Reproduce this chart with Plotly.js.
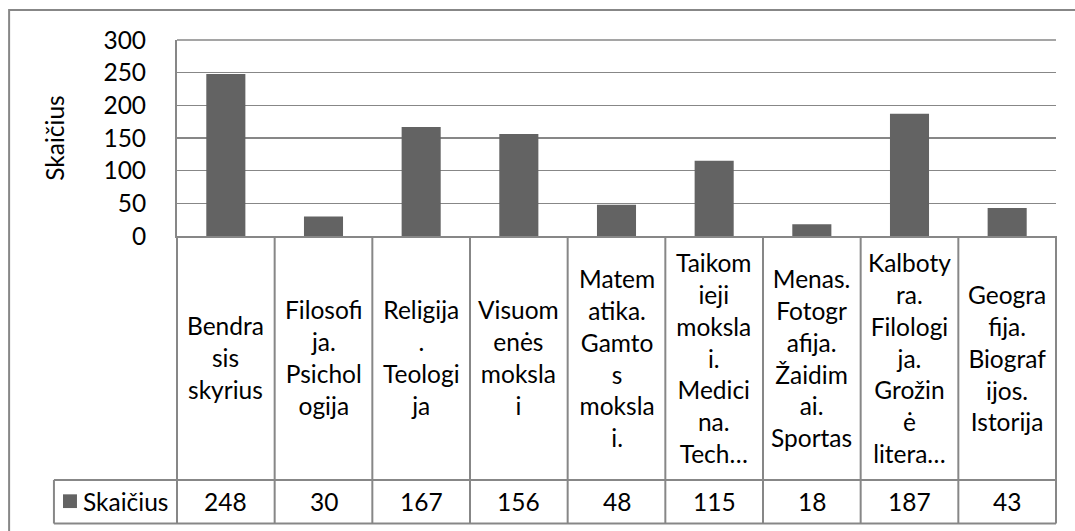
<!DOCTYPE html>
<html>
<head>
<meta charset="utf-8">
<script src="https://cdn.plot.ly/plotly-3.0.1.min.js"></script>
<style>html,body{margin:0;padding:0;background:#fff;}#chart{width:1075px;height:531px;}</style>
</head>
<body>
<div id="chart"></div>
<script>
// ---- data ----
const categories = [
  'Bendrasis skyrius',
  'Filosofija. Psichologija',
  'Religija. Teologija',
  'Visuomenės mokslai',
  'Matematika. Gamtos mokslai.',
  'Taikomieji mokslai. Medicina. Technika',
  'Menas. Fotografija. Žaidimai. Sportas',
  'Kalbotyra. Filologija. Grožinė literatūra',
  'Geografija. Biografijos. Istorija'
];
const cellLabels = [
  'Bendra<br>sis<br>skyrius',
  'Filosofi<br>ja.<br>Psichol<br>ogija',
  'Religija<br>.<br>Teologi<br>ja',
  'Visuom<br>enės<br>moksla<br>i',
  'Matem<br>atika.<br>Gamto<br>s<br>moksla<br>i.',
  'Taikom<br>ieji<br>moksla<br>i.<br>Medici<br>na.<br>Tech…',
  'Menas.<br>Fotogr<br>afija.<br>Žaidim<br>ai.<br>Sportas',
  'Kalboty<br>ra.<br>Filologi<br>ja.<br>Grožin<br>ė<br>litera…',
  'Geogra<br>fija.<br>Biograf<br>ijos.<br>Istorija'
];
const values = [248, 30, 167, 156, 48, 115, 18, 187, 43];
const seriesName = 'Skaičius';
const yTickVals = [0, 50, 100, 150, 200, 250, 300];

// ---- styling ----
const FONT = 'Lato, "Open Sans", sans-serif';
const FS = 24.5;
const LINE = '#878787';
const BAR = '#636363';

// geometry in paper units (plot area: 0..1)
const rowTop = 0;          // table top = x axis
const rowMid = -1.245;     // between label row and value row
const rowBot = -1.467;     // bottom of table
const legendLeft = -0.14;  // left edge of legend cell
const n = categories.length;

const shapes = [];
// top gridline (edge of plot area)
shapes.push({type: 'line', xref: 'x domain', yref: 'paper', x0: 0, x1: 1, y0: 1, y1: 1,
  line: {color: LINE, width: 1.5}});
// vertical table lines at category boundaries
for (let i = 0; i <= n; i++) {
  shapes.push({type: 'line', xref: 'x domain', yref: 'paper', x0: i / n, x1: i / n,
    y0: rowTop, y1: rowBot, line: {color: LINE, width: 2}});
}
// horizontal table lines
[rowMid, rowBot].forEach(y => shapes.push({type: 'line', xref: 'paper', yref: 'paper',
  x0: legendLeft, x1: 1, y0: y, y1: y, line: {color: LINE, width: 2}}));
// left edge of legend cell
shapes.push({type: 'line', xref: 'paper', yref: 'paper', x0: legendLeft, x1: legendLeft,
  y0: rowMid, y1: rowBot, line: {color: LINE, width: 2}});
// legend key
shapes.push({type: 'rect', xref: 'paper', yref: 'paper', x0: -0.1297, x1: -0.1138,
  y0: -1.318, y1: -1.388, fillcolor: BAR, line: {width: 0}});
// outer chart frame
shapes.push({type: 'rect', xref: 'paper', yref: 'paper', x0: -0.191, x1: 1.2,
  y0: -1.7, y1: 1.153, line: {color: LINE, width: 2}, fillcolor: 'rgba(0,0,0,0)'});

const annotations = [];
categories.forEach((c, i) => {
  annotations.push({xref: 'x', yref: 'paper', x: c, y: -0.622, text: cellLabels[i],
    showarrow: false, xanchor: 'center', yanchor: 'middle', align: 'center',
    font: {family: FONT, size: FS, color: '#000'}});
  annotations.push({xref: 'x', yref: 'paper', x: c, y: -1.357, text: String(values[i]),
    showarrow: false, xanchor: 'center', yanchor: 'middle',
    font: {family: FONT, size: FS, color: '#000'}});
});
annotations.push({xref: 'paper', yref: 'paper', x: -0.109, y: -1.357, text: seriesName,
  showarrow: false, xanchor: 'left', yanchor: 'middle',
  font: {family: FONT, size: FS, color: '#000'}});

const trace = {
  type: 'bar', x: categories, y: values, name: seriesName,
  marker: {color: BAR, line: {width: 0}}, hoverinfo: 'x+y'
};

const layout = {
  width: 1075, height: 531,
  margin: {l: 177, r: 19, t: 40, b: 295},
  paper_bgcolor: '#fff', plot_bgcolor: '#fff',
  showlegend: false,
  bargap: 0.6,
  font: {family: FONT, size: FS, color: '#000'},
  xaxis: {
    type: 'category', showticklabels: false, showgrid: false, zeroline: false,
    showline: true, linecolor: LINE, linewidth: 2, ticks: ''
  },
  yaxis: {
    range: [0, 300], tickvals: yTickVals, ticktext: yTickVals.map(String),
    showgrid: true, gridcolor: LINE, gridwidth: 1.5,
    zeroline: false, showline: true, linecolor: LINE, linewidth: 2,
    ticks: '', ticklabelstandoff: 24,
    tickfont: {family: FONT, size: FS, color: '#000'},
    title: {text: seriesName, standoff: 32, font: {family: FONT, size: FS, color: '#000'}},
    automargin: false
  },
  shapes: shapes,
  annotations: annotations
};

Plotly.newPlot('chart', [trace], layout, {displayModeBar: false, staticPlot: true});
</script>
</body>
</html>
